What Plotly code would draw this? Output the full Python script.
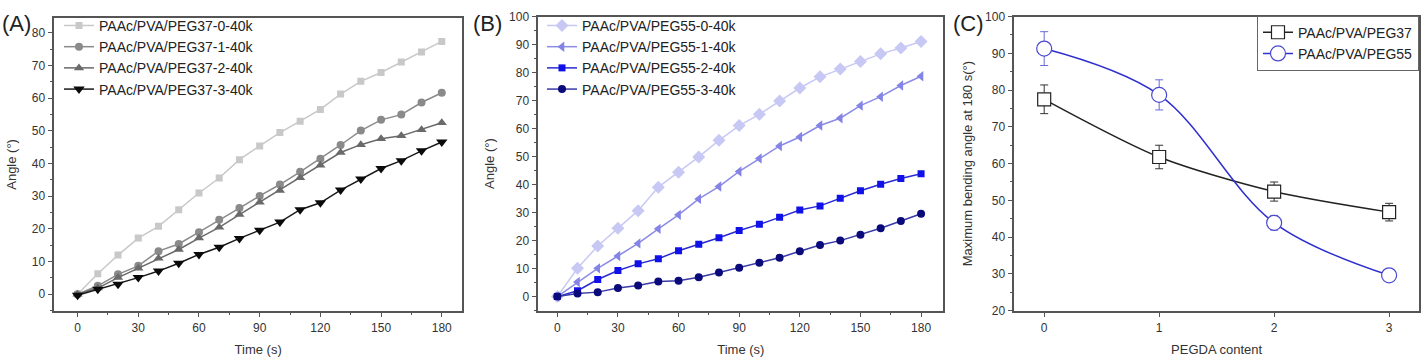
import plotly.graph_objects as go

# ---------------- data ----------------
time_s = [0, 10, 20, 30, 40, 50, 60, 70, 80, 90, 100, 110, 120, 130, 140, 150, 160, 170, 180]

peg37_names = ["PAAc/PVA/PEG37-0-40k", "PAAc/PVA/PEG37-1-40k",
               "PAAc/PVA/PEG37-2-40k", "PAAc/PVA/PEG37-3-40k"]
peg37_0 = [0, 6.3, 12.0, 17.2, 20.8, 25.9, 31.0, 35.6, 41.2, 45.4, 49.5, 53.0, 56.6, 61.3, 65.2, 67.9, 71.1, 74.2, 77.4]
peg37_1 = [0, 2.6, 6.1, 8.7, 13.2, 15.4, 19.0, 22.8, 26.4, 30.1, 33.6, 37.5, 41.5, 45.7, 50.1, 53.4, 55.0, 58.7, 61.7]
peg37_2 = [0, 1.9, 5.1, 8.0, 11.0, 13.7, 17.2, 20.5, 24.4, 28.2, 31.8, 35.7, 39.5, 43.4, 45.8, 47.6, 48.5, 50.4, 52.5]
peg37_3 = [-0.3, 1.5, 3.1, 5.1, 7.1, 9.5, 12.2, 14.4, 17.1, 19.6, 22.1, 25.9, 28.0, 31.9, 35.3, 38.5, 40.9, 43.9, 46.6]

peg55_names = ["PAAc/PVA/PEG55-0-40k", "PAAc/PVA/PEG55-1-40k",
               "PAAc/PVA/PEG55-2-40k", "PAAc/PVA/PEG55-3-40k"]
peg55_0 = [0, 10.1, 18.1, 24.4, 30.7, 39.1, 44.4, 49.9, 55.8, 61.1, 65.1, 69.9, 74.5, 78.5, 81.3, 84.0, 86.7, 88.8, 91.1]
peg55_1 = [0, 5.2, 10.1, 14.5, 19.0, 24.2, 29.2, 34.9, 39.3, 44.7, 49.3, 53.8, 57.0, 61.1, 63.7, 68.2, 71.4, 75.4, 78.7]
peg55_2 = [0, 2.1, 6.1, 9.3, 11.7, 13.5, 16.4, 18.7, 21.0, 23.6, 25.8, 28.3, 30.9, 32.4, 35.1, 37.8, 40.1, 42.2, 43.9]
peg55_3 = [0, 1.1, 1.6, 3.1, 4.0, 5.4, 5.7, 6.9, 8.6, 10.3, 12.1, 13.9, 16.2, 18.4, 20.0, 22.1, 24.4, 27.0, 29.6]

pegda_content = [0, 1, 2, 3]
max_names = ["PAAc/PVA/PEG37", "PAAc/PVA/PEG55"]
max_peg37 = [77.5, 61.8, 52.4, 46.8]
err_peg37 = [3.9, 3.2, 2.6, 2.4]
max_peg55 = [91.3, 78.7, 43.9, 29.6]
err_peg55 = [4.6, 4.1, 2.0, 0.5]

# ---------------- styling ----------------
FONT = "Arial, Liberation Sans, Helvetica, sans-serif"
AXC = "#555555"
TXT = "#333333"
W, H = 1421, 357

fig = go.Figure()

a_styles = [
    dict(color="#c8c8c8", line="#c8c8c8", symbol="square", size=7),
    dict(color="#8a8a8a", line="#8a8a8a", symbol="circle", size=8),
    dict(color="#6a6a6a", line="#6a6a6a", symbol="triangle-up", size=9),
    dict(color="#0a0a0a", line="#1a1a1a", symbol="triangle-down", size=10),
]
for name, ys, st in zip(peg37_names, [peg37_0, peg37_1, peg37_2, peg37_3], a_styles):
    fig.add_trace(go.Scatter(
        x=time_s, y=ys, name=name, mode="lines+markers",
        line=dict(color=st["line"], width=1.5),
        marker=dict(color=st["color"], symbol=st["symbol"], size=st["size"], line=dict(width=0)),
        xaxis="x", yaxis="y", legend="legend"))

b_styles = [
    dict(color="#c8c8f4", line="#c8c8f4", symbol="diamond", size=10),
    dict(color="#8484e6", line="#8c8ce6", symbol="triangle-left", size=9),
    dict(color="#1010e8", line="#2a2ad2", symbol="square", size=7),
    dict(color="#0a0a7a", line="#3a3aa8", symbol="circle", size=8),
]
for name, ys, st in zip(peg55_names, [peg55_0, peg55_1, peg55_2, peg55_3], b_styles):
    fig.add_trace(go.Scatter(
        x=time_s, y=ys, name=name, mode="lines+markers",
        line=dict(color=st["line"], width=1.5),
        marker=dict(color=st["color"], symbol=st["symbol"], size=st["size"], line=dict(width=0)),
        xaxis="x2", yaxis="y2", legend="legend2"))

fig.add_trace(go.Scatter(
    x=pegda_content, y=max_peg37, name=max_names[0], mode="lines+markers",
    line=dict(color="#222222", width=1.5, shape="spline", smoothing=0.8),
    marker=dict(color="white", symbol="square", size=13, line=dict(color="#222222", width=1.2)),
    error_y=dict(type="data", array=err_peg37, color="#333333", thickness=1, width=4),
    xaxis="x3", yaxis="y3", legend="legend3"))
fig.add_trace(go.Scatter(
    x=pegda_content, y=max_peg55, name=max_names[1], mode="lines+markers",
    line=dict(color="#2f2fd0", width=1.5, shape="spline", smoothing=1.0),
    marker=dict(color="white", symbol="circle", size=15, line=dict(color="#4a4ad0", width=1.2)),
    error_y=dict(type="data", array=err_peg55, color="#6a6ad6", thickness=1, width=4),
    xaxis="x3", yaxis="y3", legend="legend3"))

def xax(domain, rng, dtick, minor_dtick, anchor, title):
    d = dict(domain=domain, range=rng, anchor=anchor, dtick=dtick, tick0=0,
             showline=True, linecolor=AXC, linewidth=1.5, mirror=True,
             ticks="outside", ticklen=5, tickwidth=1, tickcolor=AXC,
             showgrid=False, zeroline=False,
             tickfont=dict(family=FONT, size=12, color=TXT),
             title=dict(text=title, font=dict(family=FONT, size=13, color=TXT), standoff=13))
    if minor_dtick:
        d["minor"] = dict(dtick=minor_dtick, ticks="outside", ticklen=3, tickcolor=AXC, tick0=0)
    return d

def yax(domain, rng, dtick, minor_dtick, anchor, title, standoff=10):
    d = dict(domain=domain, range=rng, anchor=anchor, dtick=dtick, tick0=0,
             showline=True, linecolor=AXC, linewidth=1.5, mirror=True,
             ticks="outside", ticklen=5, tickwidth=1, tickcolor=AXC,
             showgrid=False, zeroline=False,
             tickfont=dict(family=FONT, size=12, color=TXT),
             title=dict(text=title, font=dict(family=FONT, size=13, color=TXT), standoff=standoff))
    if minor_dtick:
        d["minor"] = dict(dtick=minor_dtick, ticks="outside", ticklen=3, tickcolor=AXC, tick0=0)
    return d

ybot = 1 - 316 / H

LEGFONT = dict(family=FONT, size=14, color="#222222")

fig.update_layout(
    width=W, height=H,
    margin=dict(l=0, r=0, t=0, b=0),
    paper_bgcolor="white", plot_bgcolor="white",
    font=dict(family=FONT, color=TXT),
    xaxis=xax([54.3 / W, 462 / W], [-11.5, 190], 30, 15, "y", "Time (s)"),
    yaxis=yax([ybot, 1 - 11.7 / H], [-5, 84.5], 10, 5, "x", "Angle (°)", 12),
    xaxis2=xax([538.3 / W, 943.3 / W], [-9.4, 191], 30, 15, "y2", "Time (s)"),
    yaxis2=yax([ybot, 1 - 10 / H], [-5, 100], 10, 5, "x2", "Angle (°)", 12),
    xaxis3=xax([1014.3 / W, 1419 / W], [-0.26, 3.26], 1, None, "y3", "PEGDA content"),
    yaxis3=yax([ybot, 1 - 10 / H], [20, 100], 10, 5, "x3", "Maximum bending angle at 180 s(°)", 10),
    legend=dict(x=59 / W, y=1 - 3 / H, xanchor="left", yanchor="top",
                bgcolor="rgba(0,0,0,0)", borderwidth=0,
                font=LEGFONT, tracegroupgap=0),
    legend2=dict(x=542 / W, y=1 - 3 / H, xanchor="left", yanchor="top",
                 bgcolor="rgba(0,0,0,0)", borderwidth=0,
                 font=LEGFONT, tracegroupgap=0),
    legend3=dict(x=1419 / W, y=1 - 9 / H, xanchor="right", yanchor="top",
                 bgcolor="white", bordercolor="#666666", borderwidth=1,
                 font=LEGFONT, tracegroupgap=0),
    annotations=[
        dict(text="(A)", x=0, y=1 - 2 / H, xref="paper", yref="paper", xanchor="left", yanchor="top",
             showarrow=False, font=dict(family=FONT, size=22, color="#222222")),
        dict(text="(B)", x=471 / W, y=1 - 2 / H, xref="paper", yref="paper", xanchor="left", yanchor="top",
             showarrow=False, font=dict(family=FONT, size=22, color="#222222")),
        dict(text="(C)", x=951 / W, y=1 - 2 / H, xref="paper", yref="paper", xanchor="left", yanchor="top",
             showarrow=False, font=dict(family=FONT, size=22, color="#222222")),
    ],
)

fig.write_html("out.html")
